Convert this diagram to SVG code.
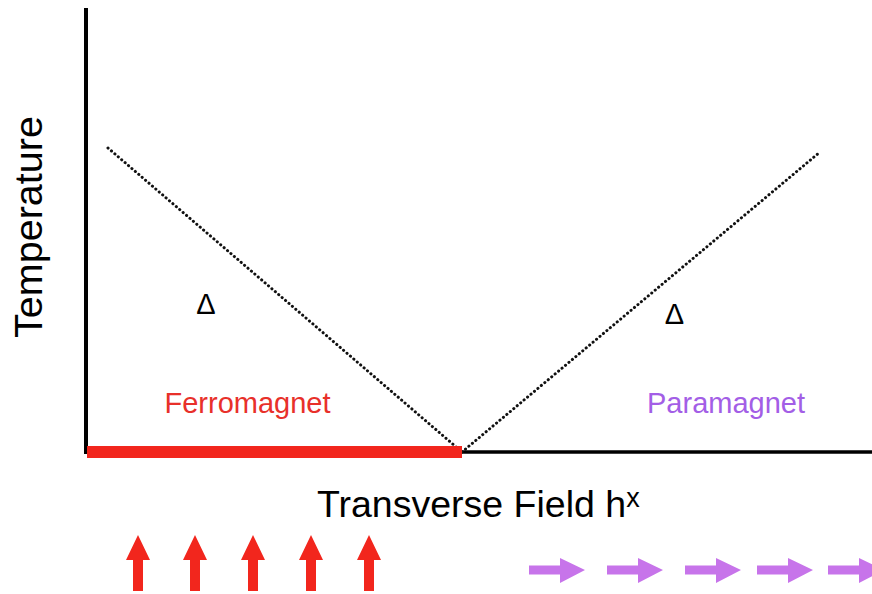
<svg xmlns="http://www.w3.org/2000/svg" width="872" height="594" viewBox="0 0 872 594">
<style>
.lbl{font-family:"Liberation Sans",Arial,sans-serif}
.dot{stroke:#111;stroke-width:3;stroke-dasharray:0.1 4.4;stroke-linecap:round;fill:none}
.up{fill:#f2261d}
.rt{fill:#c774ea}
</style>
<defs>
<path id="uparrow" d="M-5,25 L-5,56 L5,56 L5,25 L12,25 L0,0 L-12,25 Z"/>
<path id="rtarrow" d="M0,-4.5 L31,-4.5 L31,-12 L56,0 L31,13 L31,4.5 L0,4.5 Z"/>
</defs>
<rect width="872" height="594" fill="#fff"/>
<g id="axes">
<line x1="86" y1="8" x2="86" y2="454" stroke="#000" stroke-width="4"/>
<line x1="86" y1="452" x2="872" y2="452" stroke="#000" stroke-width="3.5"/>
</g>
<g id="connectors">
<line class="dot" x1="108" y1="148" x2="462" y2="452"/>
<line class="dot" x1="462" y1="452" x2="820" y2="152"/>
</g>
<g id="ferro-bar"><rect x="87" y="446" width="375" height="12" fill="#f2261d"/></g>
<g id="labels">
<text class="lbl" x="42" y="227" font-size="39.5" text-anchor="middle" transform="rotate(-90 42 227)">Temperature</text>
<text class="lbl" x="317" y="517" font-size="37.5">Transverse Field h<tspan font-size="27" dy="-10">x</tspan></text>
<text class="lbl" x="247.5" y="413" font-size="29" fill="#e8302a" text-anchor="middle">Ferromagnet</text>
<text class="lbl" x="726" y="413" font-size="29" fill="#a35ee6" text-anchor="middle">Paramagnet</text>
<text class="lbl" x="206" y="314" font-size="29" text-anchor="middle">Δ</text>
<text class="lbl" x="674.5" y="324" font-size="29" text-anchor="middle">Δ</text>
</g>
<g id="up-arrows" class="up">
<use href="#uparrow" x="138" y="535"/>
<use href="#uparrow" x="195" y="535"/>
<use href="#uparrow" x="253" y="535"/>
<use href="#uparrow" x="311" y="535"/>
<use href="#uparrow" x="369" y="535"/>
</g>
<g id="right-arrows" class="rt">
<use href="#rtarrow" x="529" y="570"/>
<use href="#rtarrow" x="607" y="570"/>
<use href="#rtarrow" x="685" y="570"/>
<use href="#rtarrow" x="757" y="570"/>
<use href="#rtarrow" x="828" y="570"/>
</g>
</svg>
